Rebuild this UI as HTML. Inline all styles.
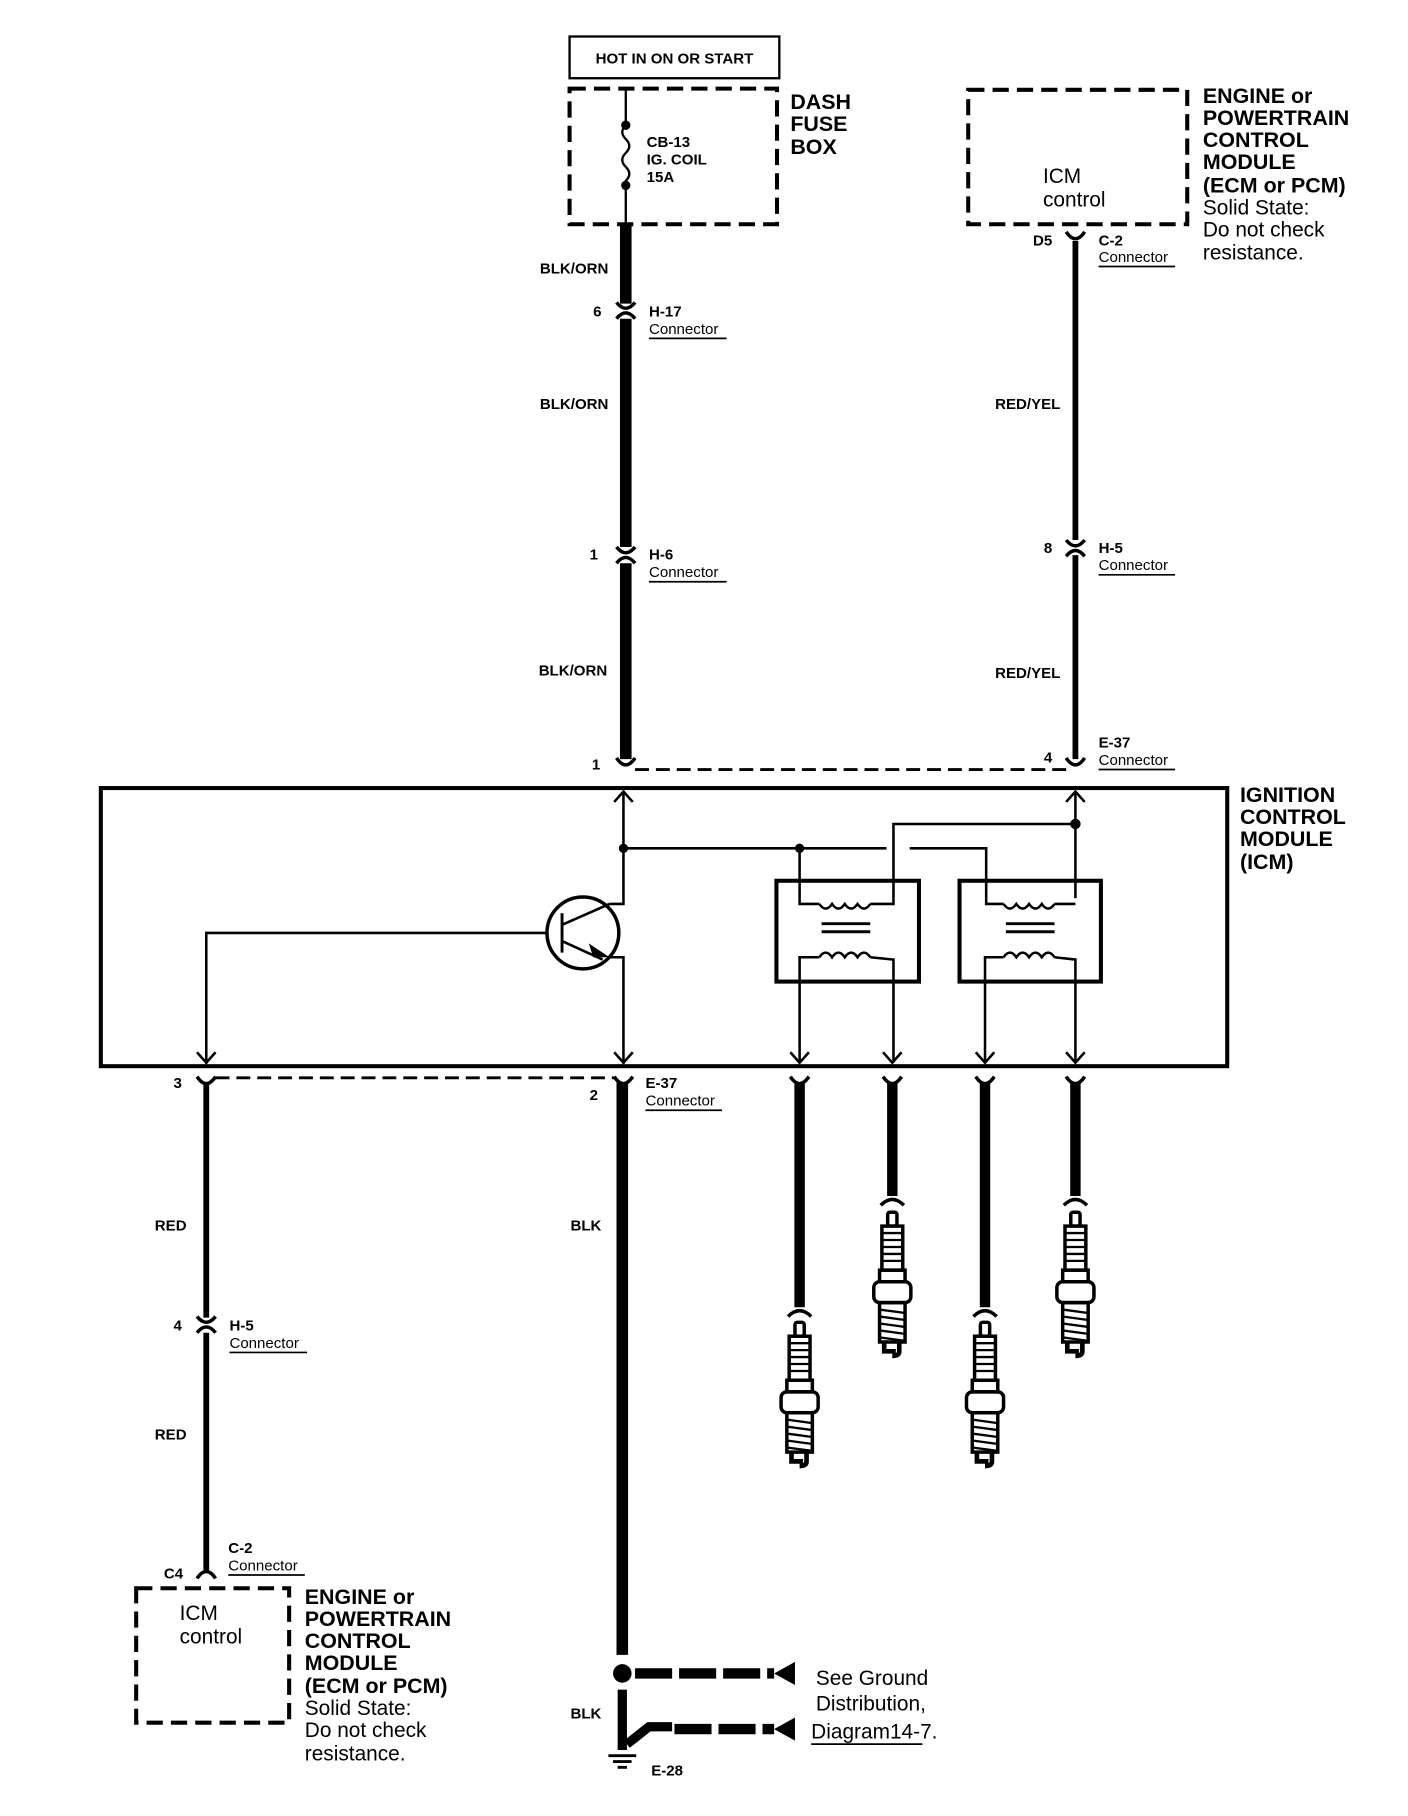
<!DOCTYPE html>
<html><head><meta charset="utf-8"><style>
html,body{margin:0;padding:0;background:#fff;}
svg{display:block;}
text{font-family:"Liberation Sans",Arial,sans-serif;fill:#000;}
.s{font-size:13px;font-weight:bold;}
.c{font-size:13px;}
.b{font-size:18.5px;font-weight:bold;}
.n{font-size:18px;}
</style></head><body>
<svg width="1408" height="1816" viewBox="0 0 1215 1567" preserveAspectRatio="none" xmlns="http://www.w3.org/2000/svg">
<defs>
<g id="plug" fill="none" stroke="#000" stroke-width="3">
<rect x="-4" y="0" width="8" height="12" rx="2"/>
<rect x="-9" y="12" width="18" height="38" fill="#fff"/>
<path d="M-9 18h18M-9 24h18M-9 30h18M-9 36h18M-9 42h18" stroke-width="2"/>
<rect x="-11" y="50" width="22" height="10"/>
<rect x="-16" y="60" width="32" height="18" rx="5"/>
<rect x="-11" y="78" width="22" height="34"/>
<path d="M-11 84l22 3M-11 90l22 3M-11 96l22 3M-11 102l22 3M-11 108l22 3" stroke-width="2"/>
<path d="M-7 112v8h10M6 112v8q0 4-6 4" stroke-width="4"/>
</g>
<g id="conn" fill="none" stroke="#000" stroke-width="3">
<path d="M-8 -7 Q0 3 8 -7"/>
<path d="M-8 7 Q0 -3 8 7"/>
</g>
</defs>

<rect x="491.5" y="31.5" width="181" height="36" fill="none" stroke="#000" stroke-width="2"/>
<text x="582" y="55" class="s" text-anchor="middle">HOT IN ON OR START</text>
<rect x="491.5" y="76.5" width="179" height="117" fill="none" stroke="#000" stroke-width="3.5" stroke-dasharray="14,7"/>
<line x1="540" y1="76" x2="540" y2="194" stroke="#000" stroke-width="2"/>
<rect x="533" y="112" width="14" height="44" fill="#fff"/>
<path d="M540 108 q-6 6 0 12 q6 6 0 12 q-6 6 0 12 q6 6 0 12 v4" fill="none" stroke="#000" stroke-width="2"/>
<circle cx="540" cy="108" r="4"/><circle cx="540" cy="160" r="4"/>
<text x="558" y="127" class="s">CB-13</text>
<text x="558" y="142" class="s">IG. COIL</text>
<text x="558" y="157" class="s">15A</text>
<text x="682" y="94" class="b">DASH</text>
<text x="682" y="113" class="b">FUSE</text>
<text x="682" y="133" class="b">BOX</text>

<g stroke="#000" stroke-width="10">
<line x1="540" y1="194" x2="540" y2="262"/>
<line x1="540" y1="275" x2="540" y2="472"/>
<line x1="540" y1="486" x2="540" y2="655"/>
</g>
<use href="#conn" x="540" y="268"/>
<use href="#conn" x="540" y="479"/>
<path d="M532 654 Q540 666 548 654" fill="none" stroke="#000" stroke-width="3"/>
<text x="525" y="236" class="s" text-anchor="end">BLK/ORN</text>
<text x="519" y="273" class="s" text-anchor="end">6</text>
<text x="560" y="273" class="s">H-17</text>
<text x="560" y="288" class="c">Connector</text><line x1="560" y1="292" x2="627" y2="292" stroke="#000" stroke-width="1.5"/>
<text x="525" y="353" class="s" text-anchor="end">BLK/ORN</text>
<text x="516" y="483" class="s" text-anchor="end">1</text>
<text x="560" y="483" class="s">H-6</text>
<text x="560" y="498" class="c">Connector</text><line x1="560" y1="502" x2="627" y2="502" stroke="#000" stroke-width="1.5"/>
<text x="524" y="583" class="s" text-anchor="end">BLK/ORN</text>
<text x="518" y="664" class="s" text-anchor="end">1</text>

<rect x="835.5" y="77.5" width="189" height="116" fill="none" stroke="#000" stroke-width="3.5" stroke-dasharray="14,7"/>
<text x="900" y="158" class="n">ICM</text>
<text x="900" y="178" class="n">control</text>
<text x="1038" y="89" class="b">ENGINE or</text>
<text x="1038" y="108" class="b">POWERTRAIN</text>
<text x="1038" y="127" class="b">CONTROL</text>
<text x="1038" y="146" class="b">MODULE</text>
<text x="1038" y="166" class="b">(ECM or PCM)</text>
<text x="1038" y="185" class="n">Solid State:</text>
<text x="1038" y="204" class="n">Do not check</text>
<text x="1038" y="224" class="n">resistance.</text>
<g stroke="#000" stroke-width="5">
<line x1="928" y1="208" x2="928" y2="466"/>
<line x1="928" y1="479" x2="928" y2="655"/>
</g>
<path d="M920 200 Q928 212 936 200" fill="none" stroke="#000" stroke-width="3"/>
<use href="#conn" x="928" y="473"/>
<path d="M920 654 Q928 666 936 654" fill="none" stroke="#000" stroke-width="3"/>
<text x="908" y="212" class="s" text-anchor="end">D5</text>
<text x="948" y="212" class="s">C-2</text>
<text x="948" y="226" class="c">Connector</text><line x1="948" y1="230" x2="1014" y2="230" stroke="#000" stroke-width="1.5"/>
<text x="915" y="353" class="s" text-anchor="end">RED/YEL</text>
<text x="908" y="477" class="s" text-anchor="end">8</text>
<text x="948" y="477" class="s">H-5</text>
<text x="948" y="492" class="c">Connector</text><line x1="948" y1="496" x2="1014" y2="496" stroke="#000" stroke-width="1.5"/>
<text x="915" y="585" class="s" text-anchor="end">RED/YEL</text>
<text x="908" y="658" class="s" text-anchor="end">4</text>
<text x="948" y="645" class="s">E-37</text>
<text x="948" y="660" class="c">Connector</text><line x1="948" y1="664" x2="1014" y2="664" stroke="#000" stroke-width="1.5"/>
<line x1="548" y1="664" x2="920" y2="664" stroke="#000" stroke-width="2.5" stroke-dasharray="12,6"/>

<rect x="87" y="680" width="972" height="240" fill="none" stroke="#000" stroke-width="3.5"/>
<text x="1070" y="692" class="b">IGNITION</text>
<text x="1070" y="711" class="b">CONTROL</text>
<text x="1070" y="730" class="b">MODULE</text>
<text x="1070" y="750" class="b">(ICM)</text>
<g fill="none" stroke="#000" stroke-width="2.2">
<path d="M530 692 L538 683 L546 692"/><path d="M920 692 L928 683 L936 692"/>
<path d="M538 683 V780 H526"/>
<path d="M538 732 H765 M785 732 H851 V775"/>
<path d="M690 732 V775"/>
<path d="M928 683 V775 M928 711 H771 V775"/>
<circle cx="503" cy="805" r="31" stroke-width="3"/>
<path d="M485 788 V822" stroke-width="2.5"/>
<path d="M472 805 H178 V918"/>
<path d="M485 798 L526 780"/>
<path d="M485 812 L520 828 M526 826 H538 V918"/>
<path d="M170 908 L178 917 L186 908 M530 908 L538 917 L546 908 M682 908 L690 917 L698 908 M762 908 L770 917 L778 908 M842 908 L850 917 L858 908 M920 908 L928 917 L936 908"/>
<rect x="670" y="760" width="123" height="87" stroke-width="3.5"/>
<rect x="828" y="760" width="122" height="87" stroke-width="3.5"/>
<path d="M690 775 V780 H707 M751 780 H771 V775"/>
<path d="M707 780 q5.5 8 11 0 q5.5 8 11 0 q5.5 8 11 0 q5.5 8 11 0"/>
<path d="M709 797 H751 M709 804 H751" stroke-width="2.5"/>
<path d="M690 917 V826 H707 M751 826 L771 828 V917"/>
<path d="M707 826 q5.5 -8 11 0 q5.5 -8 11 0 q5.5 -8 11 0 q5.5 -8 11 0"/>
<path d="M851 775 V780 H866 M910 780 H928"/>
<path d="M866 780 q5.5 8 11 0 q5.5 8 11 0 q5.5 8 11 0 q5.5 8 11 0"/>
<path d="M868 797 H910 M868 804 H910" stroke-width="2.5"/>
<path d="M850 917 V826 H866 M910 826 L928 828 V917"/>
<path d="M866 826 q5.5 -8 11 0 q5.5 -8 11 0 q5.5 -8 11 0 q5.5 -8 11 0"/>
</g>
<path d="M508 814 L526 826 L512 826 Z" fill="#000"/>
<circle cx="538" cy="732" r="4"/><circle cx="690" cy="732" r="4"/><circle cx="928" cy="711" r="4.5"/>

<g fill="none" stroke="#000" stroke-width="3">
<path d="M170 929 Q178 941 186 929"/><path d="M530 929 Q538 941 546 929"/>
<path d="M682 929 Q690 941 698 929"/><path d="M762 929 Q770 941 778 929"/>
<path d="M842 929 Q850 941 858 929"/><path d="M920 929 Q928 941 936 929"/>
</g>
<line x1="186" y1="930" x2="530" y2="930" stroke="#000" stroke-width="2.5" stroke-dasharray="12,6"/>
<text x="157" y="939" class="s" text-anchor="end">3</text>
<text x="516" y="949" class="s" text-anchor="end">2</text>
<text x="557" y="939" class="s">E-37</text>
<text x="557" y="954" class="c">Connector</text><line x1="557" y1="958" x2="623" y2="958" stroke="#000" stroke-width="1.5"/>

<g stroke="#000" stroke-width="5">
<line x1="178" y1="934" x2="178" y2="1137"/>
<line x1="178" y1="1150" x2="178" y2="1355"/>
</g>
<use href="#conn" x="178" y="1143"/>
<path d="M170 1362 Q178 1350 186 1362" fill="none" stroke="#000" stroke-width="3"/>
<text x="161" y="1062" class="s" text-anchor="end">RED</text>
<text x="157" y="1148" class="s" text-anchor="end">4</text>
<text x="198" y="1148" class="s">H-5</text>
<text x="198" y="1163" class="c">Connector</text><line x1="198" y1="1167" x2="265" y2="1167" stroke="#000" stroke-width="1.5"/>
<text x="161" y="1242" class="s" text-anchor="end">RED</text>
<text x="158" y="1362" class="s" text-anchor="end">C4</text>
<text x="197" y="1340" class="s">C-2</text>
<text x="197" y="1355" class="c">Connector</text><line x1="197" y1="1359" x2="263" y2="1359" stroke="#000" stroke-width="1.5"/>

<rect x="117.5" y="1370.5" width="132" height="116" fill="none" stroke="#000" stroke-width="3.5" stroke-dasharray="14,7"/>
<text x="155" y="1398" class="n">ICM</text>
<text x="155" y="1418" class="n">control</text>
<text x="263" y="1384" class="b">ENGINE or</text>
<text x="263" y="1403" class="b">POWERTRAIN</text>
<text x="263" y="1422" class="b">CONTROL</text>
<text x="263" y="1441" class="b">MODULE</text>
<text x="263" y="1461" class="b">(ECM or PCM)</text>
<text x="263" y="1480" class="n">Solid State:</text>
<text x="263" y="1499" class="n">Do not check</text>
<text x="263" y="1519" class="n">resistance.</text>

<line x1="537" y1="934" x2="537" y2="1428" stroke="#000" stroke-width="10"/>
<text x="519" y="1062" class="s" text-anchor="end">BLK</text>
<circle cx="537" cy="1444" r="8"/>
<line x1="537" y1="1458" x2="537" y2="1510" stroke="#000" stroke-width="8"/>
<path d="M541 1505 L560 1490 H580" fill="none" stroke="#000" stroke-width="8"/>
<g stroke="#000" stroke-width="2.5"><line x1="525" y1="1515" x2="549" y2="1515"/><line x1="529" y1="1520" x2="545" y2="1520"/><line x1="533" y1="1525" x2="541" y2="1525"/></g>
<text x="519" y="1483" class="s" text-anchor="end">BLK</text>
<text x="562" y="1532" class="s">E-28</text>
<g stroke="#000" stroke-width="9" stroke-dasharray="32,6">
<line x1="548" y1="1444" x2="668" y2="1444"/>
<line x1="582" y1="1492" x2="668" y2="1492"/>
</g>
<path d="M668 1444 L686 1434 V1454 Z M668 1492 L686 1482 V1502 Z" fill="#000"/>
<text x="704" y="1454" class="n">See Ground</text>
<text x="704" y="1476" class="n">Distribution,</text>
<text x="700" y="1500" class="n">Diagram14-7.</text>
<line x1="700" y1="1505" x2="796" y2="1505" stroke="#000" stroke-width="1.5"/>

<g stroke="#000" stroke-width="9">
<line x1="690" y1="934" x2="690" y2="1128"/>
<line x1="770" y1="934" x2="770" y2="1032"/>
<line x1="850" y1="934" x2="850" y2="1128"/>
<line x1="928" y1="934" x2="928" y2="1032"/>
</g>
<g fill="none" stroke="#000" stroke-width="3">
<path d="M680 1136 Q690 1126 700 1136"/><path d="M760 1040 Q770 1030 780 1040"/>
<path d="M840 1136 Q850 1126 860 1136"/><path d="M918 1040 Q928 1030 938 1040"/>
</g>
<use href="#plug" x="690" y="1141"/>
<use href="#plug" x="770" y="1046"/>
<use href="#plug" x="850" y="1141"/>
<use href="#plug" x="928" y="1046"/>
</svg>
</body></html>
